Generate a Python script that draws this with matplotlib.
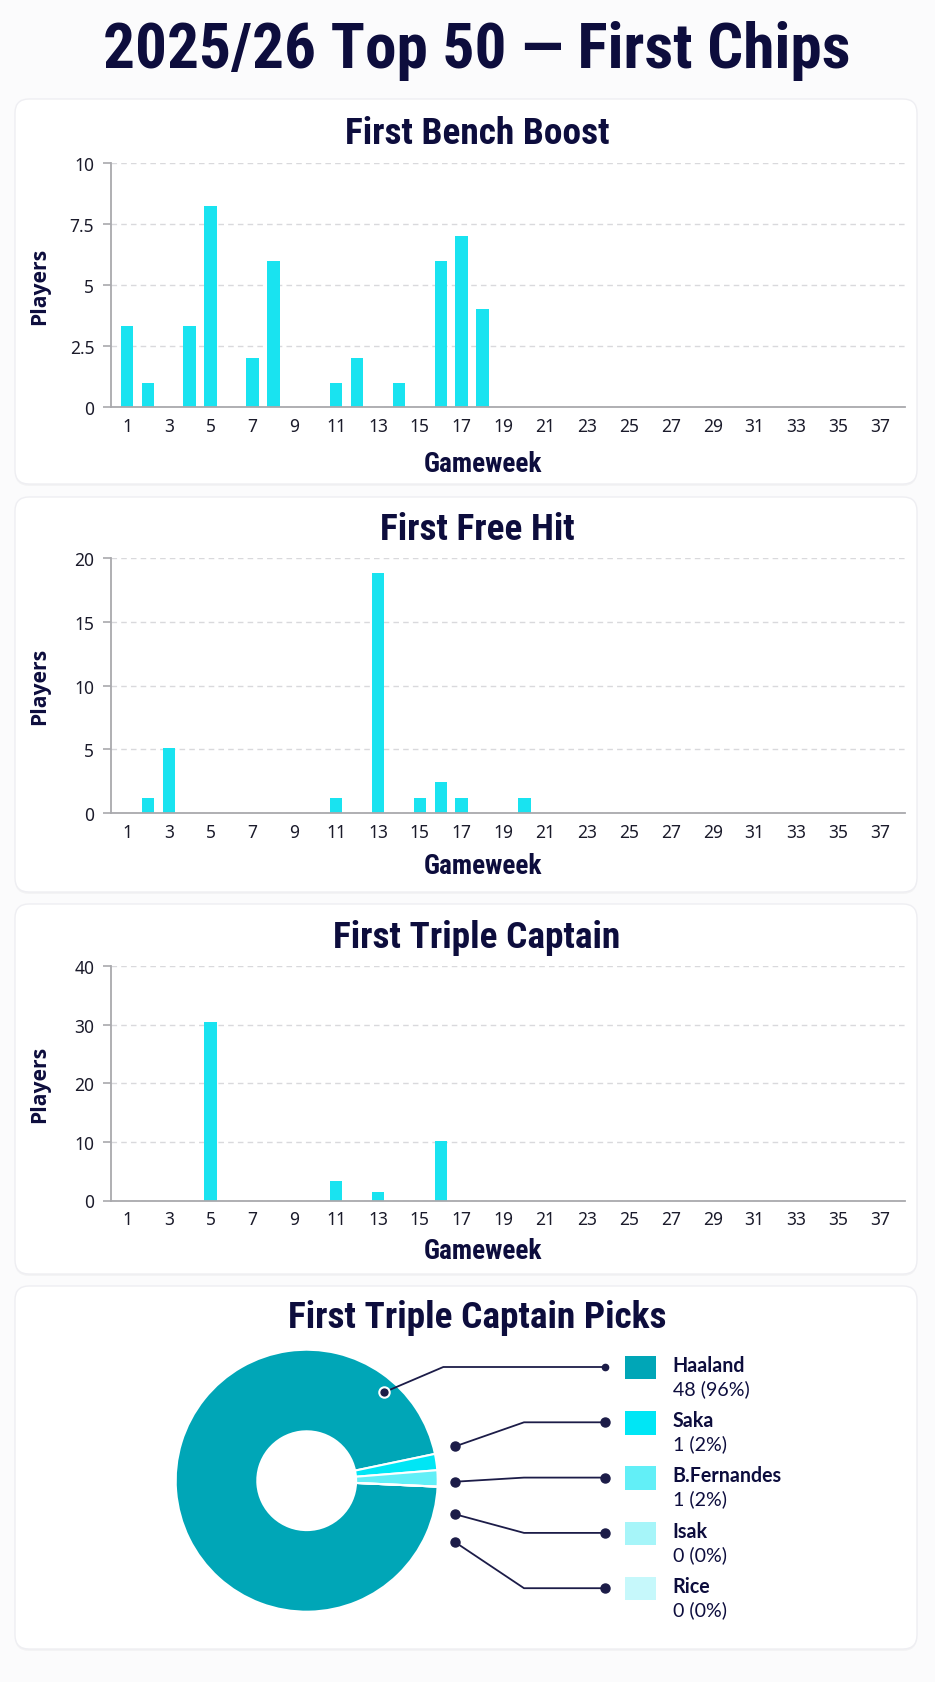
import matplotlib
matplotlib.use("Agg")
import matplotlib.pyplot as plt
from matplotlib import font_manager
from matplotlib.patches import FancyBboxPatch, Rectangle
from matplotlib.font_manager import FontProperties

# ---------------- data ----------------
gameweeks = list(range(1, 39))
tick_gameweeks = list(range(1, 38, 2))

bench_boost_gw = [1, 2, 4, 5, 7, 8, 11, 12, 14, 16, 17, 18]
bench_boost_players = [3.3, 1, 3.3, 8.25, 2, 6, 1, 2, 1, 6, 7, 4]

free_hit_gw = [2, 3, 11, 13, 15, 16, 17, 20]
free_hit_players = [1.2, 5.1, 1.2, 18.85, 1.2, 2.4, 1.2, 1.2]

triple_captain_gw = [5, 11, 13, 16]
triple_captain_players = [30.4, 3.4, 1.5, 10.1]

bench_yticks = [0, 2.5, 5, 7.5, 10]
free_hit_yticks = [0, 5, 10, 15, 20]
triple_yticks = [0, 10, 20, 30, 40]

tc_names = ["Haaland", "Saka", "B.Fernandes", "Isak", "Rice"]
tc_counts = [48, 1, 1, 0, 0]
tc_pcts = [96, 2, 2, 0, 0]

main_title = "2025/26 Top 50 \u2014 First Chips"
panel_titles = ["First Bench Boost", "First Free Hit", "First Triple Captain",
                "First Triple Captain Picks"]

# ---------------- style ----------------
W, H, DPI = 935, 1683, 100
NAVY = "#0d0d3d"
BAR = "#19e3f0"
GRID = "#d9d9dc"
SPINE = "#a9a9ad"
PIE_COLORS = ["#00a6b7", "#00e6f5", "#62eff7", "#a6f5f9", "#c6f8fb"]


def find_condensed_bold():
    fl = font_manager.fontManager.ttflist
    def isbold(f):
        return str(f.weight) in ("700", "bold", "800", "heavy", "900", "black")
    for want in ("Roboto Condensed", "Liberation Sans Narrow", "Open Sans Condensed"):
        for f in fl:
            if f.name == want and isbold(f):
                return FontProperties(fname=f.fname)
    for f in fl:
        if f.name.startswith("DejaVu Sans") and "ondensed" in f.fname and isbold(f):
            return FontProperties(fname=f.fname)
    return FontProperties(family="Roboto", weight="bold")


COND = find_condensed_bold()

fig = plt.figure(figsize=(W / DPI, H / DPI), dpi=DPI)
fig.patch.set_facecolor("#fbfbfc")
renderer = fig.canvas.get_renderer()


def px_axes(x0, y0, x1, y1, z=1):
    return fig.add_axes([x0 / W, 1 - y1 / H, (x1 - x0) / W, (y1 - y0) / H], zorder=z)


def fit_size(text, target_w, fp, base=20):
    t = fig.text(0, 0, text, fontproperties=fp)
    t.set_fontsize(base)
    w = t.get_window_extent(renderer).width
    t.remove()
    return base * target_w / w


# background overlay in pixel coordinates
bg = px_axes(0, 0, W, H, z=0)
bg.set_xlim(0, W)
bg.set_ylim(H, 0)
bg.axis("off")

cards = [(15, 100, 917, 485), (15, 498, 917, 893), (15, 905, 917, 1275), (15, 1287, 917, 1650)]
for (x0, y0, x1, y1) in cards:
    bg.add_patch(FancyBboxPatch((x0, y0 + 2), x1 - x0, y1 - y0,
                                boxstyle="round,pad=0,rounding_size=14",
                                fc="#000000", ec="none", alpha=0.03))
    bg.add_patch(FancyBboxPatch((x0, y0), x1 - x0, y1 - y0,
                                boxstyle="round,pad=0,rounding_size=14",
                                fc="white", ec="#eeeef2", lw=1))

# titles
title_fp = COND.copy()
title_fp.set_size(fit_size(main_title, 747, COND))
bg.text(477, 51, main_title, fontproperties=title_fp, color=NAVY, ha="center", va="center")

sub_fp = COND.copy()
sub_fp.set_size(fit_size("First Triple Captain", 287, COND))
for t, y in zip(panel_titles, [134, 530, 938, 1318]):
    bg.text(477, y, t, fontproperties=sub_fp, color=NAVY, ha="center", va="center")

label_fp = FontProperties(family="Open Sans", weight="bold")
label_fp.set_size(fit_size("Players", 77, label_fp))
gw_fp = COND.copy()
gw_fp.set_size(fit_size("Gameweek", 118, COND))


def fmt(v):
    return "%g" % v


def bar_panel(box, gws, vals, yticks, gw_y):
    x0, y0, x1, y1 = box
    ax = px_axes(x0, y0, x1, y1, z=2)
    ax.patch.set_alpha(0)
    ax.bar(gws, vals, width=0.6, color=BAR, zorder=3)
    ax.set_xlim(0.236, 38.19)
    ax.set_ylim(yticks[0], yticks[-1])
    ax.set_xticks(tick_gameweeks)
    ax.set_xticklabels([str(g) for g in tick_gameweeks])
    ax.set_yticks(yticks)
    ax.set_yticklabels([fmt(v) for v in yticks])
    ax.grid(axis="y", color=GRID, linestyle=(0, (4, 3)), lw=1, zorder=0)
    ax.set_axisbelow(True)
    for s in ("top", "right"):
        ax.spines[s].set_visible(False)
    for s in ("left", "bottom"):
        ax.spines[s].set_color(SPINE)
        ax.spines[s].set_linewidth(1.3)
        ax.spines[s].set_zorder(4)
    ax.tick_params(axis="x", length=0, pad=7, labelsize=12.5, labelcolor="#1b1b2b")
    ax.tick_params(axis="y", length=6, width=1.2, color=SPINE, pad=6, labelsize=12.5,
                   labelcolor="#1b1b2b")
    for lab in ax.get_xticklabels() + ax.get_yticklabels():
        lab.set_fontfamily("Noto Sans")
    bg.text(40, (y0 + y1) / 2, "Players", fontproperties=label_fp, color=NAVY,
            rotation=90, ha="center", va="center")
    bg.text(483, gw_y, "Gameweek", fontproperties=gw_fp, color=NAVY, ha="center", va="center")
    return ax


bar_panel((111, 164, 905, 408), bench_boost_gw, bench_boost_players, bench_yticks, 464)
bar_panel((111, 559, 905, 814), free_hit_gw, free_hit_players, free_hit_yticks, 867)
bar_panel((111, 967, 905, 1201.5), triple_captain_gw, triple_captain_players, triple_yticks, 1252)

# donut
cx, cy, r = 306.7, 1481.7, 131
dax = px_axes(cx - r, cy - r, cx + r, cy + r, z=3)
dax.pie(tc_counts, colors=PIE_COLORS, startangle=-2.6, counterclock=False, radius=1,
        wedgeprops=dict(width=0.623, edgecolor="white", linewidth=1.5))
dax.set_xlim(-1, 1)
dax.set_ylim(-1, 1)
dax.axis("off")

# leader lines + legend overlay
ov = px_axes(0, 0, W, H, z=5)
ov.set_xlim(0, W)
ov.set_ylim(H, 0)
ov.axis("off")
ov.patch.set_alpha(0)

leg_top = 1356.7
leg_step = 55.3
start_pts = [(384, 1393.3), (455.3, 1447.3), (455.3, 1482.7), (455.3, 1515.3), (455.3, 1543.3)]
elbow_x = [443.3, 524, 524, 524, 524]
name_fp = FontProperties(family="Lato", weight="bold")
name_fp.set_size(fit_size("B.Fernandes", 109, name_fp))
val_fp = FontProperties(family="Lato", weight="normal")
val_fp.set_size(name_fp.get_size())

for i, (nm, c, p) in enumerate(zip(tc_names, tc_counts, tc_pcts)):
    ly = 1368 + i * leg_step
    sx, sy = start_pts[i]
    ov.plot([sx, elbow_x[i], 605], [sy, ly, ly], color="#1c1c48", lw=1.3,
            solid_capstyle="round")
    if i == 0:
        ov.plot([sx], [sy], marker="o", ms=7.5, color="#1c1c48", mec="white", mew=1.5)
        ov.plot([605], [ly], marker="o", ms=4.5, color="#1c1c48")
    else:
        ov.plot([sx], [sy], marker="o", ms=6.5, color="#1c1c48")
        ov.plot([605], [ly], marker="o", ms=6.5, color="#1c1c48")
    top = leg_top + i * leg_step
    ov.add_patch(Rectangle((625, top), 31, 23.5, fc=PIE_COLORS[i], ec="none"))
    ov.text(672.7, 1371.7 + i * leg_step, nm, fontproperties=name_fp, color=NAVY,
            ha="left", va="baseline")
    ov.text(672.7, 1395 + i * leg_step, "%d (%d%%)" % (c, p), fontproperties=val_fp,
            color=NAVY, ha="left", va="baseline")

fig.savefig("out.png", dpi=DPI, facecolor=fig.get_facecolor())
